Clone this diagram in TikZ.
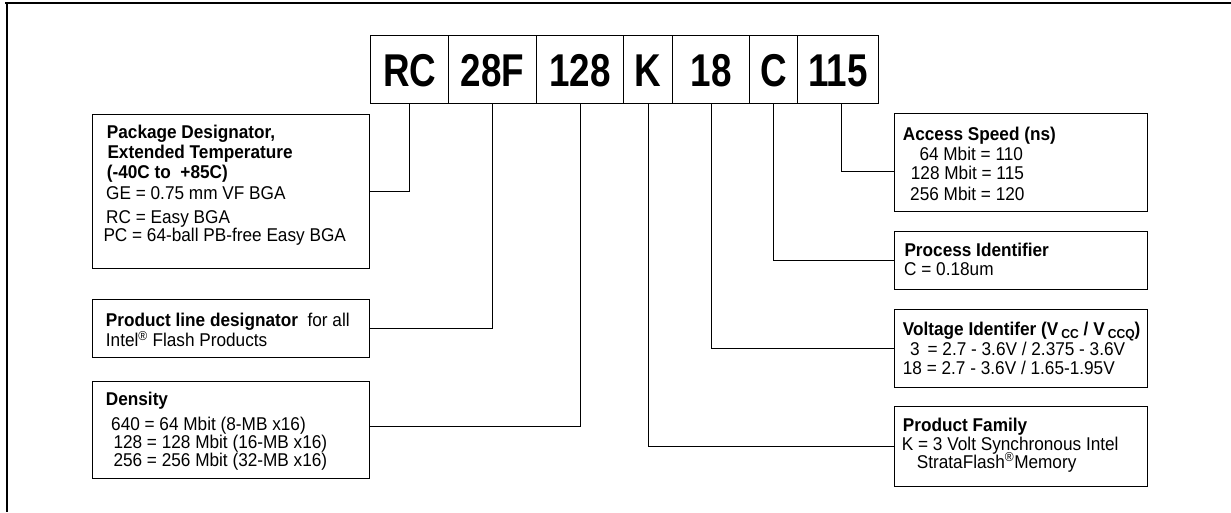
\documentclass[tikz,border=0pt]{standalone}
\usepackage{fontspec}
\setmainfont{Liberation Sans}[FakeStretch=0.93]
\newfontfamily\hdrfont{Liberation Sans}[FakeStretch=0.8]
\usetikzlibrary{calc}
\tikzset{
  frame/.style={line width=1.8pt},
  box/.style={draw, line width=1.2pt, anchor=north west, inner sep=0pt},
  cell/.style={draw, line width=1.2pt, anchor=north west, inner sep=0pt, minimum height=68pt,
    text height=33pt, text depth=0pt, font=\hdrfont\fontsize{46}{46}\selectfont\bfseries},
  txt/.style={anchor=base west, inner sep=0pt, font=\fontsize{18.5}{20}\selectfont},
  hd/.style={anchor=base west, inner sep=0pt, font=\fontsize{18.5}{20}\selectfont\bfseries},
  conn/.style={line width=1.2pt}
}
\newcommand{\regmark}{\textsuperscript{\textregistered}}
\newcommand{\lowsub}[1]{\raisebox{-3.5pt}{\fontsize{13}{13}\selectfont #1}}
\begin{document}
\begin{tikzpicture}[x=1pt,y=-1pt]
\useasboundingbox (0,0) rectangle (1231,512);
% outer frame (top and left edges)
\draw[frame] (5,3.3) -- (1231,3.3);
\draw[frame] (6.7,3.3) -- (6.7,512);
% header cells
\node[cell, minimum width=78pt] (rc) at (370,35) {RC};
\node[cell, minimum width=88pt] (f28) at (448,35) {28F};
\node[cell, minimum width=87pt] (d128) at (536,35) {128};
\node[cell, minimum width=49pt] (k) at (623,35) {K};
\node[cell, minimum width=77pt] (v18) at (672,35) {18};
\node[cell, minimum width=48pt] (c) at (749,35) {C};
\node[cell, minimum width=81pt] (s115) at (797,35) {115};
% left boxes
\node[box, minimum width=277pt, minimum height=154pt] (pkg) at (92,114) {};
\node[box, minimum width=277pt, minimum height=58pt] (pline) at (92,299) {};
\node[box, minimum width=277pt, minimum height=97pt] (dens) at (92,381) {};
% right boxes
\node[box, minimum width=253pt, minimum height=98pt] (acc) at (894,113) {};
\node[box, minimum width=253pt, minimum height=58pt] (proc) at (894,231) {};
\node[box, minimum width=253pt, minimum height=78pt] (volt) at (894,309) {};
\node[box, minimum width=253pt, minimum height=80pt] (fam) at (894,406) {};
% connectors
\draw[conn] (rc.south) |- (pkg.east);
\draw[conn] (f28.south) |- (pline.east);
\draw[conn] (d128.south) |- ($(dens.east)+(0,-4)$);
\draw[conn] (k.south) |- (fam.west);
\draw[conn] (v18.south) |- (volt.west);
\draw[conn] (c.south) |- (proc.west);
\draw[conn] ([xshift=3pt]s115.south) |- ($(acc.west)+(0,9)$);
% package text
\node[hd] (p1) at (106.7,138) {Package Designator,};
\node[hd] (p2) at (107.3,158) {Extended Temperature};
\node[hd] (p3) at (106.7,178) {(-40C to \ +85C)};
\node[txt] (p4) at (106,199) {GE = 0.75 mm VF BGA};
\node[txt] (p5) at (106,223) {RC = Easy BGA};
\node[txt] (p6) at (103.3,241.5) {PC = 64-ball PB-free Easy BGA};
% product line text
\node[txt] (l1) at (105.7,326) {\textbf{Product line designator}\ \ for all};
\node[txt] (l2) at (105.7,346.5) {Intel\regmark\ Flash Products};
% density text
\node[hd] (d1) at (105.7,405) {Density};
\node[txt] (d2) at (111,430) {640 = 64 Mbit (8-MB x16)};
\node[txt] (d3) at (113.3,448) {128 = 128 Mbit (16-MB x16)};
\node[txt] (d4) at (113.3,466) {256 = 256 Mbit (32-MB x16)};
% access text
\node[hd] (a1) at (902.7,140) {Access Speed (ns)};
\node[txt] (a2) at (919.3,160) {64 Mbit = 110};
\node[txt] (a3) at (910.7,179) {128 Mbit = 115};
\node[txt] (a4) at (910,200) {256 Mbit = 120};
% process text
\node[hd] (r1) at (904.3,256.5) {Process Identifier};
\node[txt] (r2) at (904,275) {C = 0.18um};
% voltage text
\node[hd] (v1) at (902.7,335) {Voltage Identifer (V\,\lowsub{CC} / V\,\lowsub{CCQ})};
\node[txt] (v2) at (910,355) {3 \,= 2.7 - 3.6V / 2.375 - 3.6V};
\node[txt] (v3) at (902.7,374) {18 = 2.7 - 3.6V / 1.65-1.95V};
% family text
\node[hd] (f1) at (902.7,431.5) {Product Family};
\node[txt] (f2) at (901.7,450) {K = 3 Volt Synchronous Intel};
\node[txt] (f3) at (916.7,468) {StrataFlash\regmark Memory};
\end{tikzpicture}
\end{document}
